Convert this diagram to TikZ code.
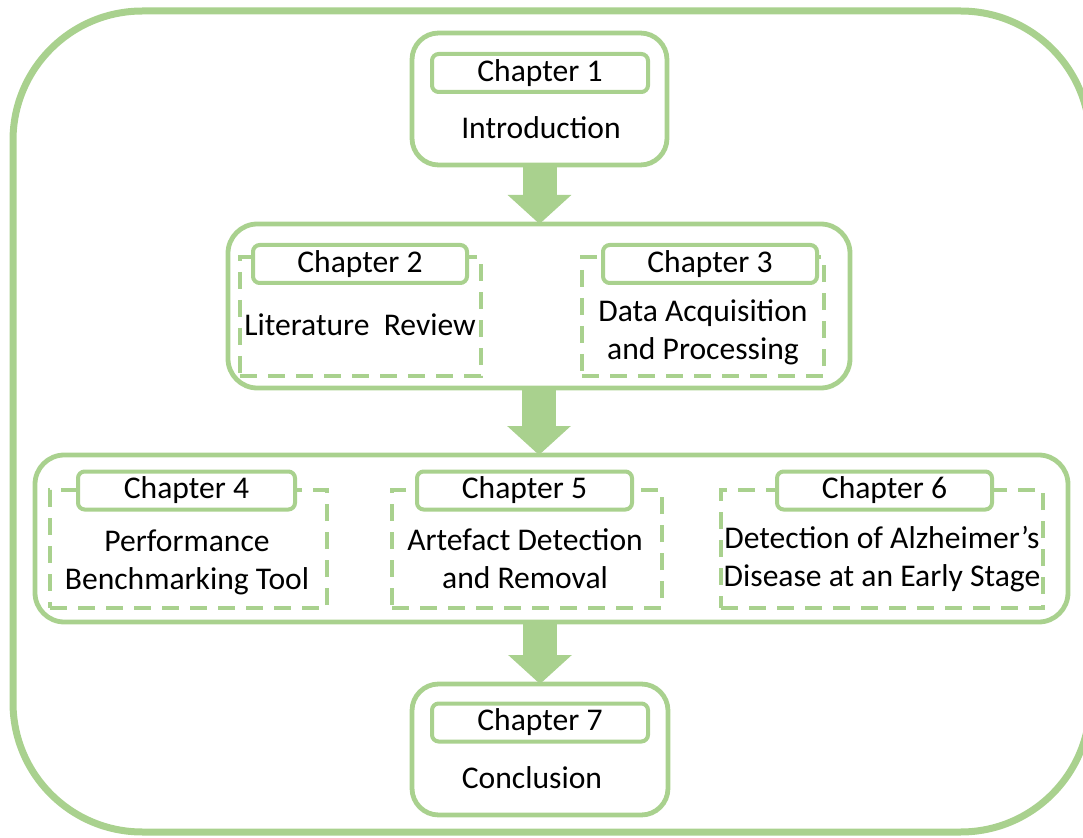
\documentclass[tikz,border=0pt]{standalone}
\usepackage{fontspec}
\setmainfont{Carlito}
\usetikzlibrary{arrows.meta,calc}
\definecolor{G}{HTML}{A9D18E}
\begin{document}
\begin{tikzpicture}[x=0.75pt,y=-0.75pt,
  every node/.style={font=\fontsize{23.7}{28.7}\selectfont, inner sep=0pt, outer sep=0pt},
  outerbox/.style={draw=G, line width=5.25pt, rounded corners=97pt},
  grpbox/.style={draw=G, line width=3.6pt, rounded corners=22pt},
  chbox/.style={draw=G, line width=3.6pt, rounded corners=20pt},
  lblbox/.style={draw=G, fill=white, line width=3pt, rounded corners=5pt, minimum height=38*0.75pt},
  dashbox/.style={draw=G, line width=3pt, dash pattern=on 13pt off 8pt},
  bigarrow/.style={draw=G, line width=25.5pt, -{Triangle[length=21.75pt,width=46.5pt]}},
  txt/.style={align=center, text=black}
]
\useasboundingbox (0,0) rectangle (1083,838);
\clip (0,0) rectangle (1083,838);
% outer frame
\node[outerbox, minimum width=1077*0.75pt, minimum height=821*0.75pt] (frame) at (551.5,421.5) {};
% chapter 1
\node[chbox, minimum width=255*0.75pt, minimum height=132*0.75pt] (b1) at (539.5,99) {};
\node[lblbox, minimum width=216*0.75pt] (l1) at (540,73) {Chapter 1};
\node[txt] (t1) at (541,128) {Introduction};
% group 2
\node[grpbox, minimum width=622*0.75pt, minimum height=164*0.75pt] (b2) at (539,306) {};
\node[dashbox, minimum width=241*0.75pt, minimum height=119*0.75pt] (d2) at (360.5,316.5) {};
\node[lblbox, minimum width=214*0.75pt] (l2) at (360,264) {Chapter 2};
\node[txt] (t2) at (360,325) {Literature\ \ Review};
\node[dashbox, minimum width=242*0.75pt, minimum height=119*0.75pt] (d3) at (703,316.5) {};
\node[lblbox, minimum width=214*0.75pt] (l3) at (710,264) {Chapter 3};
\node[txt] (t3) at (703,332) {Data Acquisition\\and Processing};
% group 3
\node[grpbox, minimum width=1033*0.75pt, minimum height=167*0.75pt] (b3) at (551.5,538.5) {};
\node[dashbox, minimum width=277*0.75pt, minimum height=118*0.75pt] (d4) at (188.5,549) {};
\node[lblbox, minimum width=217*0.75pt] (l4) at (186.5,490.5) {Chapter 4};
\node[txt] (t4) at (187,562.5) {Performance\\Benchmarking Tool};
\node[dashbox, minimum width=270*0.75pt, minimum height=118*0.75pt] (d5) at (527,549) {};
\node[lblbox, minimum width=215*0.75pt] (l5) at (524.5,490.5) {Chapter 5};
\node[txt] (t5) at (525,559) {Artefact Detection\\and Removal};
\node[dashbox, minimum width=322*0.75pt, minimum height=118*0.75pt] (d6) at (882,549) {};
\node[lblbox, minimum width=215*0.75pt] (l6) at (884.5,490.5) {Chapter 6};
\node[txt] (t6) at (882,559) {Detection of Alzheimer’s\\Disease at an Early Stage};
% chapter 7
\node[chbox, minimum width=256*0.75pt, minimum height=131*0.75pt] (b7) at (540,749.5) {};
\node[lblbox, minimum width=216*0.75pt] (l7) at (540,722.5) {Chapter 7};
\node[txt] (t7) at (532,778) {Conclusion};
% arrows
\draw[bigarrow] (b1.south) -- (b1.south |- b2.north);
\draw[bigarrow] (b2.south) -- (b2.south |- b3.north);
\draw[bigarrow] (b7.north |- b3.south) -- (b7.north);
\end{tikzpicture}
\end{document}
